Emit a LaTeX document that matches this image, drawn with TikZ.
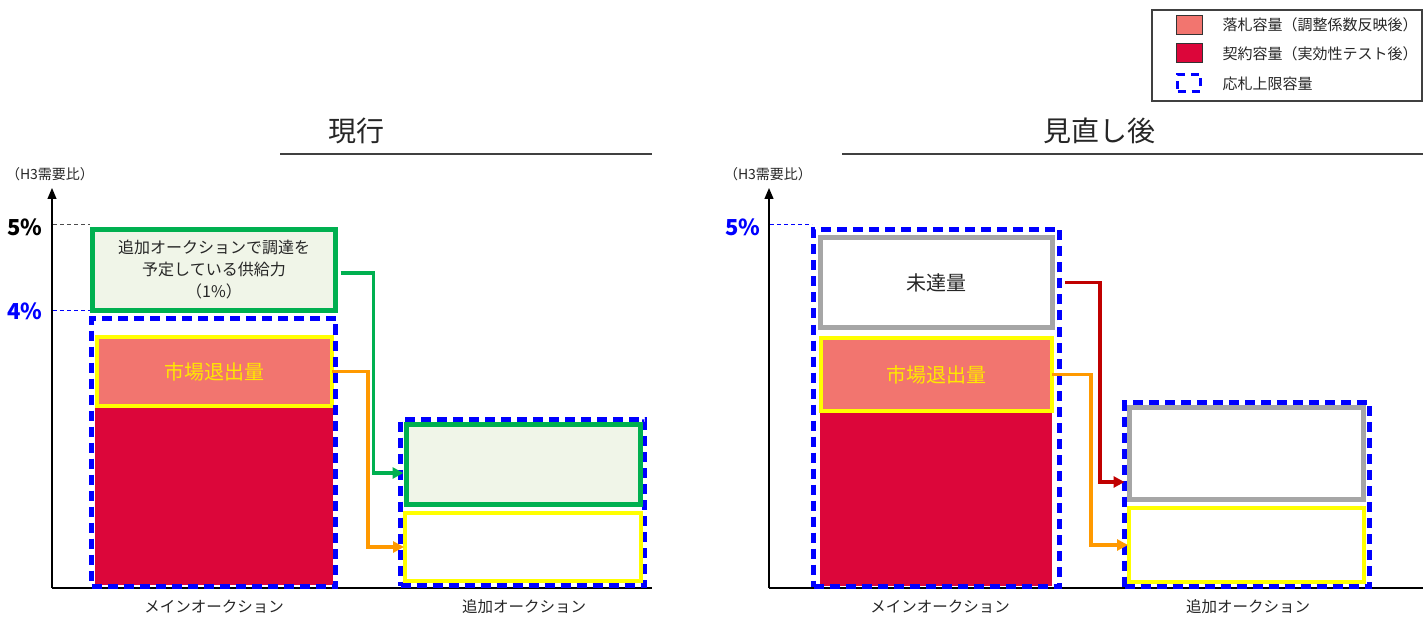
\documentclass[tikz,border=0pt]{standalone}
\usepackage{fontspec}
\setmainfont{Noto Sans CJK JP}
\usetikzlibrary{arrows.meta}
\definecolor{salmon}{HTML}{F2756F}
\definecolor{crimson}{HTML}{DC063A}
\definecolor{ylw}{HTML}{FFFF00}
\definecolor{grn}{HTML}{00B050}
\definecolor{lgrn}{HTML}{F0F5E8}
\definecolor{gry}{HTML}{A6A6A6}
\definecolor{blu}{HTML}{0000FF}
\definecolor{orng}{HTML}{FF9900}
\definecolor{darkred}{HTML}{C00000}
\definecolor{txtyel}{HTML}{FFE800}
\definecolor{linegray}{HTML}{404040}
\tikzset{
  bx/.style={rectangle, inner sep=0pt, outer sep=0pt, anchor=north west},
  bluedash/.style={bx, draw=blu, line width=5pt, dash pattern=on 10pt off 6pt},
  ybox/.style={bx, draw=ylw, line width=4pt},
  gbox/.style={bx, draw=grn, line width=5pt, fill=lgrn},
  graybox/.style={bx, draw=gry, line width=5pt, fill=white},
  redfill/.style={bx, fill=crimson},
  conn/.style={line width=3.2pt, -{Triangle[length=11pt,width=11pt]}},
  axis/.style={line width=1.2pt, -{Triangle[length=11pt,width=9pt]}},
  ttl/.style={font=\fontsize{28}{30}\selectfont, text=black!85},
  xlab/.style={font=\fontsize{15.5}{17}\selectfont, text=black!85},
  ylab/.style={font=\fontsize{14}{15}\selectfont, text=black!85},
  pct/.style={font=\fontsize{22}{24}\selectfont\bfseries, anchor=east},
  big/.style={font=\fontsize{20}{22}\selectfont},
  lgtxt/.style={font=\fontsize{15}{16}\selectfont, anchor=west, text=black!85},
  tick/.style={line width=1pt, dash pattern=on 4pt off 3pt}
}
\begin{document}
\begin{tikzpicture}[x=1pt,y=-1pt]
\useasboundingbox (0,0) rectangle (1423,617);

% ---------- Legend ----------
\node[bx, draw=linegray, line width=1.2pt, minimum width=270pt, minimum height=91pt] (legend) at (1152,10) {};
\node[bx, draw=black!80, line width=1pt, fill=salmon, minimum width=26pt, minimum height=19pt] (sw1) at (1176,16) {};
\node[bx, draw=black!80, line width=1pt, fill=crimson, minimum width=26pt, minimum height=19pt] (sw2) at (1176,44) {};
\node[bx, draw=blu, line width=3.5pt, dash pattern=on 8pt off 6pt, minimum width=23pt, minimum height=17pt] (sw3) at (1177.5,74.5) {};
\node[lgtxt] (lg1) at (1219,25) {落札容量（調整係数反映後）};
\node[lgtxt] (lg2) at (1219,54) {契約容量（実効性テスト後）};
\node[lgtxt] (lg3) at (1219,84) {応札上限容量};

% ---------- Left panel: 現行 ----------
\node[ttl] (t1) at (356,131) {現行};
\draw[linegray, line width=1.2pt] (280,154) -- (652,154);
\node[ylab] (yl1) at (50,174) {（H3需要比）};
\coordinate (o1) at (52,588);
\coordinate (top1) at (52,188);
\coordinate (xe1) at (652,588);
\draw[axis] (o1) -- (top1);
\draw[line width=1.2pt] (o1) -- (xe1);

\node[pct, text=black] (p5a) at (46,227) {5\%};
\node[pct, text=blu] (p4a) at (46,311) {4\%};
\draw[tick, black!70] (53,225) -- (90,225);
\draw[tick, blu] (53,311) -- (90,311);

% main auction bar
\node[redfill, minimum width=238pt, minimum height=180pt] (redL) at (95,405) {};
\node[ybox, fill=salmon, minimum width=235pt, minimum height=69pt, text=txtyel, big] (yL) at (97,337) {市場退出量};
\node[bluedash, minimum width=244pt, minimum height=268pt] (bL) at (91.5,318.5) {};
\node[gbox, minimum width=243pt, minimum height=81pt, align=center,
      font=\fontsize{16}{22}\selectfont, text=black!85] (gL) at (92.5,229.5)
      {追加オークションで調達を\\予定している供給力\\（1\%）};

% additional auction bar
\node[bluedash, minimum width=244pt, minimum height=166pt] (baL) at (400.5,419.5) {};
\node[gbox, minimum width=234pt, minimum height=80pt] (gaL) at (406.5,424.5) {};
\node[ybox, fill=white, minimum width=236pt, minimum height=68pt] (yaL) at (405,513) {};

\node[xlab] (xl1) at (214,607) {メインオークション};
\node[xlab] (xl2) at (524,607) {追加オークション};

% connectors
\draw[conn, grn] ([xshift=5pt,yshift=-3pt]gL.east) -- ++(33,0) |- ([xshift=-3pt,yshift=-8.5pt]gaL.west);
\draw[conn, orng] (yL.east) -- ++(36,0) |- ([xshift=-1pt]yaL.west);

% ---------- Right panel: 見直し後 ----------
\node[ttl] (t2) at (1099,131) {見直し後};
\draw[linegray, line width=1.2pt] (842,154) -- (1423,154);
\node[ylab] (yl2) at (768,174) {（H3需要比）};
\coordinate (o2) at (769,588);
\coordinate (top2) at (769,188);
\coordinate (xe2) at (1423,588);
\draw[axis] (o2) -- (top2);
\draw[line width=1.2pt] (o2) -- (xe2);

\node[pct, text=blu] (p5b) at (764,227) {5\%};
\draw[tick, blu] (770,225) -- (812,225);

% main auction bar
\node[redfill, minimum width=232pt, minimum height=176pt] (redR) at (820,410) {};
\node[ybox, fill=salmon, minimum width=231pt, minimum height=73pt, text=txtyel, big] (yR) at (821,338) {市場退出量};
\node[graybox, minimum width=232pt, minimum height=90pt, big, text=black!85] (gyR) at (820.5,237.5) {未達量};
\node[bluedash, minimum width=246pt, minimum height=357pt] (bR) at (813.5,229.5) {};

% additional auction bar
\node[bluedash, minimum width=245pt, minimum height=184pt] (baR) at (1124.5,402.5) {};
\node[graybox, minimum width=234pt, minimum height=92pt] (gyaR) at (1129.5,407.5) {};
\node[ybox, fill=white, minimum width=235pt, minimum height=74pt] (yaR) at (1129,508) {};

\node[xlab] (xl3) at (940,607) {メインオークション};
\node[xlab] (xl4) at (1248,607) {追加オークション};

% connectors
\draw[conn, darkred] ([xshift=12.5pt]gyR.east) -- ++(35,0) |- ([xshift=-5pt,yshift=-28.5pt]gyaR.west);
\draw[conn, orng] (yR.east) -- ++(39,0) |- ([xshift=-1pt]yaR.west);
\end{tikzpicture}
\end{document}
